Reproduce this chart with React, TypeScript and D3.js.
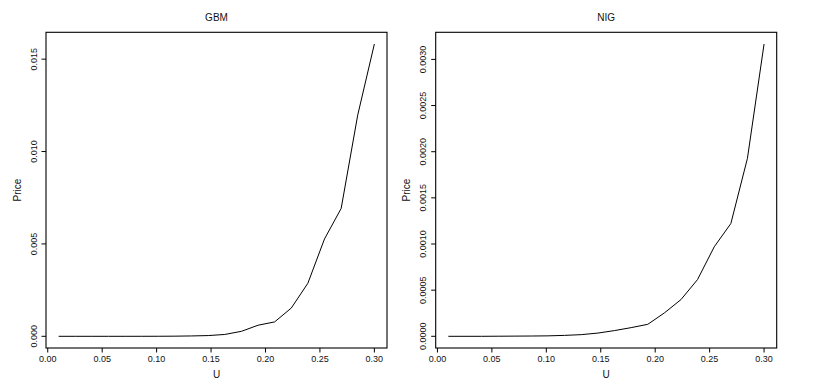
import React from "react";
import * as d3 from "d3";

const U = [0.0100, 0.0253, 0.0405, 0.0558, 0.0711, 0.0863, 0.1016, 0.1168, 0.1321, 0.1474,
  0.1626, 0.1779, 0.1932, 0.2084, 0.2237, 0.2389, 0.2542, 0.2695, 0.2847, 0.3000];
const gbmPrice = [0, 0, 0, 0, 0, 0.000001, 0.000003, 0.000008, 0.00002, 0.00004,
  0.0001, 0.00027, 0.0006, 0.00078, 0.00153, 0.00287, 0.00527, 0.00692, 0.01197, 0.01582];
const nigPrice = [0, 0, 0, 0.000001, 0.000002, 0.000003, 0.000005, 0.00001, 0.000018, 0.000035,
  0.000062, 0.000094, 0.00013, 0.000253, 0.000398, 0.000615, 0.000969, 0.001222, 0.001927, 0.003167];
const xTicks = [0, 0.05, 0.1, 0.15, 0.2, 0.25, 0.3];
const gbmTicks = [0, 0.005, 0.01, 0.015];
const nigTicks = [0, 0.0005, 0.001, 0.0015, 0.002, 0.0025, 0.003];

const FONT = "'Liberation Sans', Arial, Helvetica, sans-serif";

function ext(vals: number[]): [number, number] {
  const [a, b] = d3.extent(vals) as [number, number];
  const d = (b - a) * 0.04;
  return [a - d, b + d];
}

function Panel({ left, title, ys, yTicks, digits }: { left: number; title: string; ys: number[]; yTicks: number[]; digits: number }) {
  const top = 32.3, bottom = 348, width = 341;
  const x = d3.scaleLinear().domain(ext(U)).range([left, left + width]);
  const y = d3.scaleLinear().domain(ext(ys)).range([bottom, top]);
  const line = d3.line<number>().x((_, i) => x(U[i])).y((d) => y(d));
  const cx = left + width / 2;
  const labX = left - 9.5;
  return (
    <g fontFamily={FONT} fill="#111">
      <text x={cx} y={20.5} textAnchor="middle" fontSize={10}>{title}</text>
      <rect x={left} y={top} width={width} height={bottom - top} fill="none" stroke="#000" strokeWidth={1.1} />
      <path d={line(ys) || ""} fill="none" stroke="#000" strokeWidth={1} />
      {xTicks.map((t) => (
        <g key={t}>
          <line x1={x(t)} x2={x(t)} y1={bottom} y2={bottom + 4.5} stroke="#000" />
          <text x={x(t)} y={362.3} textAnchor="middle" fontSize={9}>{t.toFixed(2)}</text>
        </g>
      ))}
      {yTicks.map((t) => (
        <g key={t}>
          <line x1={left - 4.5} x2={left} y1={y(t)} y2={y(t)} stroke="#000" />
          <text transform={`translate(${labX},${y(t)}) rotate(-90)`} textAnchor="middle" fontSize={9}>{t.toFixed(digits)}</text>
        </g>
      ))}
      <text x={cx} y={377.7} textAnchor="middle" fontSize={10}>U</text>
      <text transform={`translate(${left - 25.5},${(top + bottom) / 2}) rotate(-90)`} textAnchor="middle" fontSize={10}>Price</text>
    </g>
  );
}

export default function App() {
  return (
    <div style={{ position: "absolute", left: 0, top: 0 }}>
      <svg width={815} height={390} style={{ display: "block", background: "#fff" }}>
        <Panel left={46} title="GBM" ys={gbmPrice} yTicks={gbmTicks} digits={3} />
        <Panel left={435.7} title="NIG" ys={nigPrice} yTicks={nigTicks} digits={4} />
      </svg>
    </div>
  );
}
